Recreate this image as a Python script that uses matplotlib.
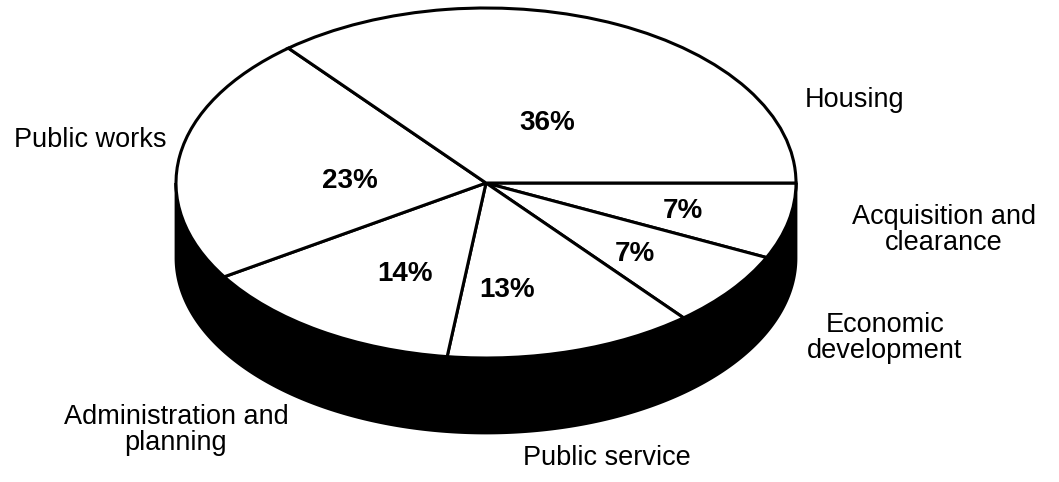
import numpy as np
import matplotlib
matplotlib.use('Agg')
import matplotlib.pyplot as plt

# data: shares in percent, clockwise from 3 o'clock
categories = ['Acquisition and\nclearance', 'Economic\ndevelopment', 'Public service',
              'Administration and\nplanning', 'Public works', 'Housing']
shares = [7, 7, 13, 14, 23, 36]

# layout in pixels (reference image)
cx, cy = 486, 183      # pie centre
ra, rb = 310, 175      # ellipse semi axes
depth = 75             # thickness of the black side

pct_pos = [(683, 211), (635, 254), (507, 290), (405, 274), (350, 181), (547, 123)]
lab_pos = [(944, 230), (885, 338), (607, 458), (176, 430), (90, 140), (855, 100)]

plt.rcParams['font.family'] = ['Liberation Sans', 'DejaVu Sans']

W, H = 1059, 482
fig = plt.figure(figsize=(W / 100, H / 100), dpi=100)
ax = fig.add_axes([0, 0, 1, 1])


def px(x, y):
    return (x - cx) / ra, (cy - y) / rb


# side band (lower half of the cylinder)
d = depth / rb
t = np.linspace(0, -np.pi, 300)
xs = np.concatenate([np.cos(t), np.cos(t[::-1])])
ys = np.concatenate([np.sin(t), np.sin(t[::-1]) - d])
ax.fill(xs, ys, color='black', lw=2, zorder=1)

ax.pie(shares, startangle=0, counterclock=False, radius=1, center=(0, 0),
       colors=['white'] * len(shares),
       wedgeprops=dict(edgecolor='black', linewidth=2.2, zorder=2))

for v, (x, y) in zip(shares, pct_pos):
    ax.text(*px(x, y), f'{v}%', ha='center', va='center', fontsize=20,
            fontweight='bold', zorder=5)

for lab, (x, y) in zip(categories, lab_pos):
    ax.text(*px(x, y), lab, ha='center', va='center', fontsize=19.5,
            linespacing=1.05, zorder=5)

ax.set_aspect('auto')
ax.set_xlim(-cx / ra, (W - cx) / ra)
ax.set_ylim(-(H - cy) / rb, cy / rb)
ax.axis('off')

fig.savefig('out.png', dpi=100, facecolor='white')
